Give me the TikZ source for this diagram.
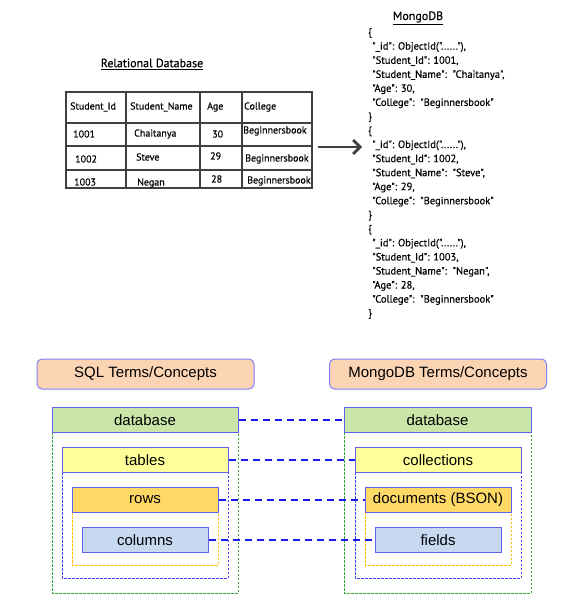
\documentclass[tikz,border=0pt]{standalone}
\usepackage{fontspec}
\setmainfont{Liberation Sans}
\newfontfamily\hum[FakeBold=0.5]{PT Sans}
\usetikzlibrary{arrows.meta}
\definecolor{salmon}{HTML}{FBD4B4}
\definecolor{lav}{HTML}{8080F8}
\definecolor{dbgreen}{HTML}{C9E6A8}
\definecolor{tblyel}{HTML}{FFFF99}
\definecolor{rowor}{HTML}{FFD966}
\definecolor{colblue}{HTML}{C6D9F0}
\definecolor{boxblue}{HTML}{6060F0}
\definecolor{gdash}{HTML}{33AA33}
\definecolor{bdash}{HTML}{4040FF}
\definecolor{odash}{HTML}{FFC000}
\definecolor{conn}{HTML}{1A1AE6}
\definecolor{tline}{HTML}{404040}
\tikzset{
  hdr/.style={draw=lav, line width=1pt, fill=salmon, rounded corners=5pt, minimum width=217pt, minimum height=30pt, inner sep=0pt, font=\fontsize{15}{17}\selectfont},
  termbox/.style={draw=boxblue, line width=1pt, minimum height=25pt, inner sep=0pt, font=\fontsize{15}{17}\selectfont},
  cell/.style={anchor=west, inner sep=0pt, font=\hum\fontsize{10}{12}\selectfont},
  json/.style={anchor=west, inner sep=0pt, font=\hum\fontsize{10.5}{12}\selectfont},
  title/.style={inner sep=0pt, font=\hum\fontsize{12}{14}\selectfont},
  link/.style={draw=conn, line width=1.5pt, dash pattern=on 7pt off 5pt},
  cont/.style={line width=0.8pt, dash pattern=on 2.5pt off 1.5pt}
}
\begin{document}
\begin{tikzpicture}[x=1pt,y=-1pt]
\useasboundingbox (0,0) rectangle (577,609);
% ---------- Relational table ----------
\node[title] (reltitle) at (152,64) {\underline{Relational Database}};
\draw[tline, line width=1.3pt] (66,92) rectangle (312,188);
\draw[tline, line width=1.3pt] (66,123) -- (312,123) (66,146) -- (312,146) (66,170) -- (312,170);
\draw[tline, line width=1.3pt] (126,92) -- (126,188) (200,92) -- (200,188) (242,92) -- (242,188);
\node[cell] (h1) at (70,107) {Student\_Id};
\node[cell] (h2) at (130,107) {Student\_Name};
\node[cell] (h3) at (207,107) {Age};
\node[cell] (h4) at (244,107) {College};
\node[cell] (a1) at (73,134) {1001};
\node[cell] (a2) at (134,134) {Chaitanya};
\node[cell] (a3) at (212,134) {30};
\node[cell] (a4) at (243,131) {Beginnersbook};
\node[cell] (b1) at (75,159) {1002};
\node[cell] (b2) at (136,157) {Steve};
\node[cell] (b3) at (210,156) {29};
\node[cell] (b4) at (245,159) {Beginnersbook};
\node[cell] (c1) at (74,182) {1003};
\node[cell] (c2) at (137,183) {Negan};
\node[cell] (c3) at (211,179) {28};
\node[cell] (c4) at (247,181) {Beginnersbook};
% ---------- Arrow ----------
\coordinate (arrS) at (318,147);
\coordinate (arrE) at (362,147);
\draw[tline, line width=2.8pt, -{Straight Barb[length=7pt,width=14pt]}] (arrS) -- (arrE);
% ---------- MongoDB JSON ----------
\node[title] (mtitle) at (418,18) {\underline{MongoDB}};
\foreach \i/\t/\xx in {
 0/{\{}/368, 1/{"\_id": ObjectId("......"),}/372, 2/{"Student\_Id": 1001,}/372,
 3/{"Student\_Name":\ \ "Chaitanya",}/372, 4/{"Age": 30,}/372, 5/{"College":\ \ "Beginnersbook"}/372, 6/{\}}/368,
 7/{\{}/368, 8/{"\_id": ObjectId("......"),}/372, 9/{"Student\_Id": 1002,}/372,
 10/{"Student\_Name":\ \ "Steve",}/372, 11/{"Age": 29,}/372, 12/{"College":\ \ "Beginnersbook"}/372, 13/{\}}/368,
 14/{\{}/368, 15/{"\_id": ObjectId("......"),}/372, 16/{"Student\_Id": 1003,}/372,
 17/{"Student\_Name":\ \ "Negan",}/372, 18/{"Age": 28,}/372, 19/{"College":\ \ "Beginnersbook"}/372, 20/{\}}/368}
 {\node[json] (j\i) at (\xx,33+\i*14.05) {\t};}
% ---------- Headers ----------
\node[hdr] (sqlh) at (145.5,374) {SQL Terms/Concepts};
\node[hdr] (mgh) at (438,374) {MongoDB Terms/Concepts};
% ---------- Containers ----------
\draw[gdash, cont] (52,432) -- (52,593) -- (238,593) -- (238,432);
\draw[bdash, cont] (62,472) -- (62,578) -- (228,578) -- (228,472);
\draw[odash, cont] (72,512) -- (72,565) -- (218,565) -- (218,512);
\draw[gdash, cont] (344,432) -- (344,593) -- (531,593) -- (531,432);
\draw[bdash, cont] (355,472) -- (355,578) -- (521,578) -- (521,472);
\draw[odash, cont] (365,512) -- (365,565) -- (511,565) -- (511,512);
% ---------- Term boxes ----------
\node[termbox, fill=dbgreen, minimum width=186pt] (ldb) at (145,420) {database};
\node[termbox, fill=tblyel, minimum width=166pt] (ltb) at (145,460) {tables};
\node[termbox, fill=rowor, minimum width=146pt] (lrw) at (145,500) {rows};
\node[termbox, fill=colblue, minimum width=126pt] (lcl) at (145,540) {columns};
\node[termbox, fill=dbgreen, minimum width=187pt] (rdb) at (437.5,420) {database};
\node[termbox, fill=tblyel, minimum width=166pt] (rtb) at (438,460) {collections};
\node[termbox, fill=rowor, minimum width=146pt] (rrw) at (438,500) {documents (BSON)};
\node[termbox, fill=colblue, minimum width=126pt] (rcl) at (438,540) {fields};
% ---------- Links ----------
\draw[link] (ldb.east) -- (rdb.west);
\draw[link] (ltb.east) -- (rtb.west);
\draw[link] (lrw.east) -- (rrw.west);
\draw[link] (lcl.east) -- (rcl.west);
\end{tikzpicture}
\end{document}
